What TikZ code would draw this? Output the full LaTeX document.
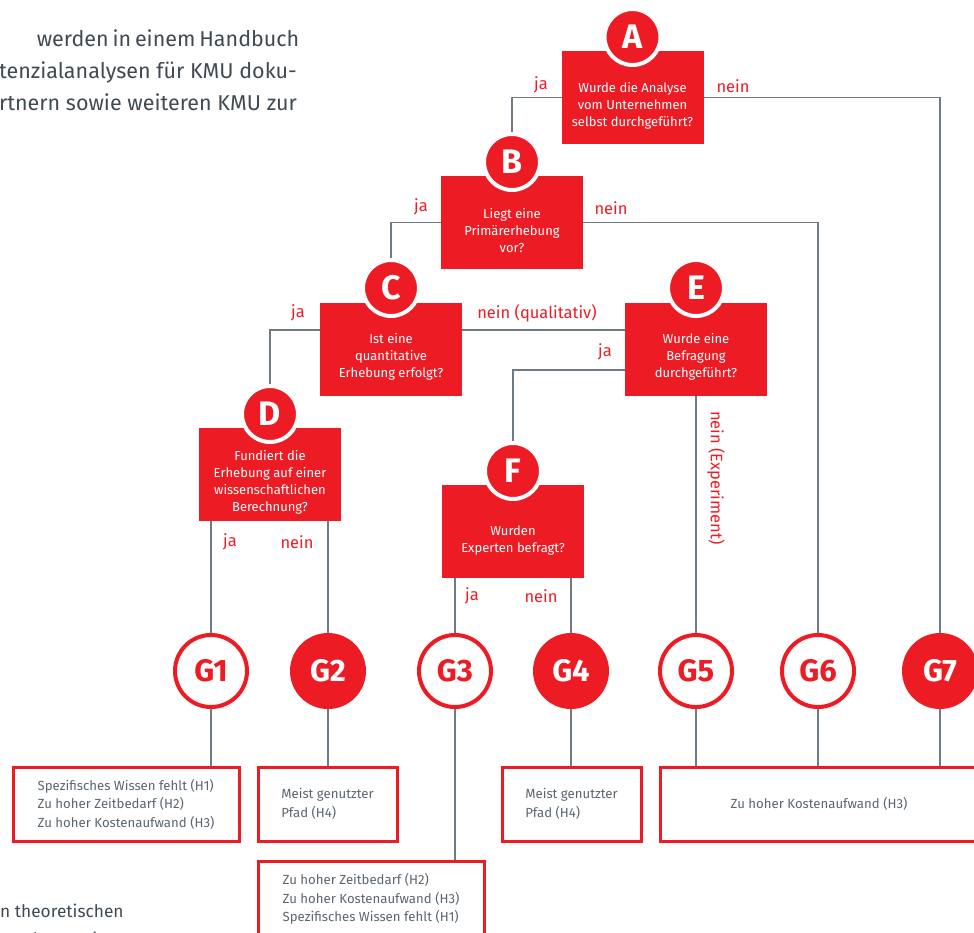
\documentclass[tikz,border=0pt]{standalone}
\usepackage{fontspec}
\setmainfont{Fira Sans}
\definecolor{kred}{HTML}{ED1C24}
\definecolor{lgrey}{HTML}{6E7B85}
\definecolor{tgrey}{HTML}{5B6670}
\definecolor{pgrey}{HTML}{3F4A52}
\pgfdeclarelayer{background}
\pgfsetlayers{background,main}
\begin{document}
\begin{tikzpicture}[x=1pt,y=-1pt,
  qbox/.style={rectangle, fill=kred, minimum width=142pt, minimum height=93pt, inner sep=0pt, outer sep=0pt},
  qtext/.style={text=white, align=center, inner sep=0pt, font=\fontsize{13}{17}\selectfont},
  letter/.style={circle, fill=kred, draw=white, line width=4pt, minimum size=56pt, inner sep=0pt, text=white, font=\fontsize{34}{34}\selectfont\bfseries},
  gring/.style={circle, draw=kred, fill=white, line width=4pt, minimum size=72pt, inner sep=0pt, text=kred, font=\fontsize{31}{31}\selectfont\bfseries},
  gdisc/.style={gring, fill=kred, text=white},
  rbox/.style={rectangle, draw=kred, line width=3pt, fill=white, inner sep=0pt, text=tgrey, align=left, font=\fontsize{13.2}{18.5}\selectfont},
  conn/.style={draw=lgrey, line width=1.6pt},
  lab/.style={text=kred, inner sep=0pt, font=\fontsize{16.5}{16.5}\selectfont},
  para/.style={text=pgrey, inner sep=0pt, font=\fontsize{21.5}{31}\selectfont}]
\useasboundingbox (0,0) rectangle (974,933);

% paragraph fragments
\node[para, anchor=base east] (p1) at (297,47) {\makebox[260pt][s]{werden in einem Handbuch}};
\node[para, anchor=base east] (p2) at (297,79) {tenzialanalysen für KMU doku-};
\node[para, anchor=base east] (p3) at (297,111) {rtnern sowie weiteren KMU zur};
\node[para, anchor=base west, font=\fontsize{17.3}{18}\selectfont] (p4) at (0,917) {n theoretischen};
\node[para, anchor=base west, font=\fontsize{17.3}{18}\selectfont] (p5) at (-2,945) {orgehensweise};

% question boxes
\node[qbox] (A) at (632.5,97.5) {};
\node[qbox] (B) at (512,222.5) {};
\node[qbox] (C) at (391,349) {};
\node[qbox] (E) at (696,349) {};
\node[qbox] (D) at (270,474.5) {};
\node[qbox] (F) at (513,531.5) {};

\node[qtext] (At) at ([yshift=-8pt]A.center) {Wurde die Analyse\\vom Unternehmen\\selbst durchgeführt?};
\node[qtext] (Bt) at ([yshift=-8pt]B.center) {Liegt eine\\Primärerhebung\\vor?};
\node[qtext] (Ct) at ([yshift=-8pt]C.center) {Ist eine\\quantitative\\Erhebung erfolgt?};
\node[qtext] (Et) at ([yshift=-8pt]E.center) {Wurde eine\\Befragung\\durchgeführt?};
\node[qtext] (Dt) at ([yshift=-8pt]D.center) {Fundiert die\\Erhebung auf einer\\wissenschaftlichen\\Berechnung?};
\node[qtext] (Ft) at ([yshift=-9pt]F.center) {Wurden\\Experten befragt?};

% letter circles
\node[letter] (Ac) at (632.5,37) {A};
\node[letter] (Bc) at (512,162) {B};
\node[letter] (Cc) at (391,288) {C};
\node[letter] (Ec) at (696,288) {E};
\node[letter] (Dc) at (270,414) {D};
\node[letter] (Fc) at (513,471) {F};

% outcome circles
\node[gring] (G1) at (211,671) {G1};
\node[gdisc] (G2) at (328,671) {G2};
\node[gring] (G3) at (455,671) {G3};
\node[gdisc] (G4) at (571,671) {G4};
\node[gring] (G5) at (696,671) {G5};
\node[gring] (G6) at (818,671) {G6};
\node[gdisc] (G7) at (940,671) {G7};

% result boxes
\node[rbox, minimum width=226pt, minimum height=74pt] (R1) at (126,804) {Spezifisches Wissen fehlt (H1)\\Zu hoher Zeitbedarf (H2)\\Zu hoher Kostenaufwand (H3)};
\node[rbox, minimum width=139pt, minimum height=74pt] (R2) at (327.5,804) {Meist genutzter\\Pfad (H4)};
\node[rbox, minimum width=226pt, minimum height=76pt] (R3) at (371,899) {Zu hoher Zeitbedarf (H2)\\Zu hoher Kostenaufwand (H3)\\Spezifisches Wissen fehlt (H1)};
\node[rbox, minimum width=139pt, minimum height=74pt] (R4) at (571.5,804) {Meist genutzter\\Pfad (H4)};
\node[rbox, minimum width=318pt, minimum height=74pt] (R5) at (819,804) {Zu hoher Kostenaufwand (H3)};

% labels
\node[lab] (lA1) at (541,85) {ja};
\node[lab] (lA2) at (733,86) {nein};
\node[lab] (lB1) at (421,207) {ja};
\node[lab] (lB2) at (611,208) {nein};
\node[lab] (lC1) at (298,313) {ja};
\node[lab] (lC2) at (537,313) {nein (qualitativ)};
\node[lab] (lE1) at (605,352) {ja};
\node[lab, rotate=-90] (lE2) at (716,478) {nein (Experiment)};
\node[lab] (lD1) at (230,542) {ja};
\node[lab] (lD2) at (297,542) {nein};
\node[lab] (lF1) at (472,596) {ja};
\node[lab] (lF2) at (541,596) {nein};

% connectors
\begin{pgfonlayer}{background}
\draw[conn] (A.west) -| (Bc.north);
\draw[conn] (A.east) -| (G7.north);
\draw[conn] (B.west) -| (Cc.north);
\draw[conn] (B.east) -| (G6.north);
\draw[conn] ([yshift=19pt]C.west) -| (Dc.north);
\draw[conn] ([yshift=19pt]C.east) -- ([yshift=19pt]E.west);
\draw[conn] ([yshift=-21pt]E.west) -| (Fc.north);
\draw[conn] (E.south) -- (G5.north);
\draw[conn] (G1.north |- D.south) -- (G1.north);
\draw[conn] (G2.north |- D.south) -- (G2.north);
\draw[conn] (G3.north |- F.south) -- (G3.north);
\draw[conn] (G4.north |- F.south) -- (G4.north);
\draw[conn] (G1.south) -- (G1.south |- R1.north);
\draw[conn] (G2.south) -- (G2.south |- R2.north);
\draw[conn] (G3.south) -- (G3.south |- R3.north);
\draw[conn] (G4.south) -- (G4.south |- R4.north);
\draw[conn] (G5.south) -- (G5.south |- R5.north);
\draw[conn] (G6.south) -- (G6.south |- R5.north);
\draw[conn] (G7.south) -- (G7.south |- R5.north);
\end{pgfonlayer}
\end{tikzpicture}
\end{document}
